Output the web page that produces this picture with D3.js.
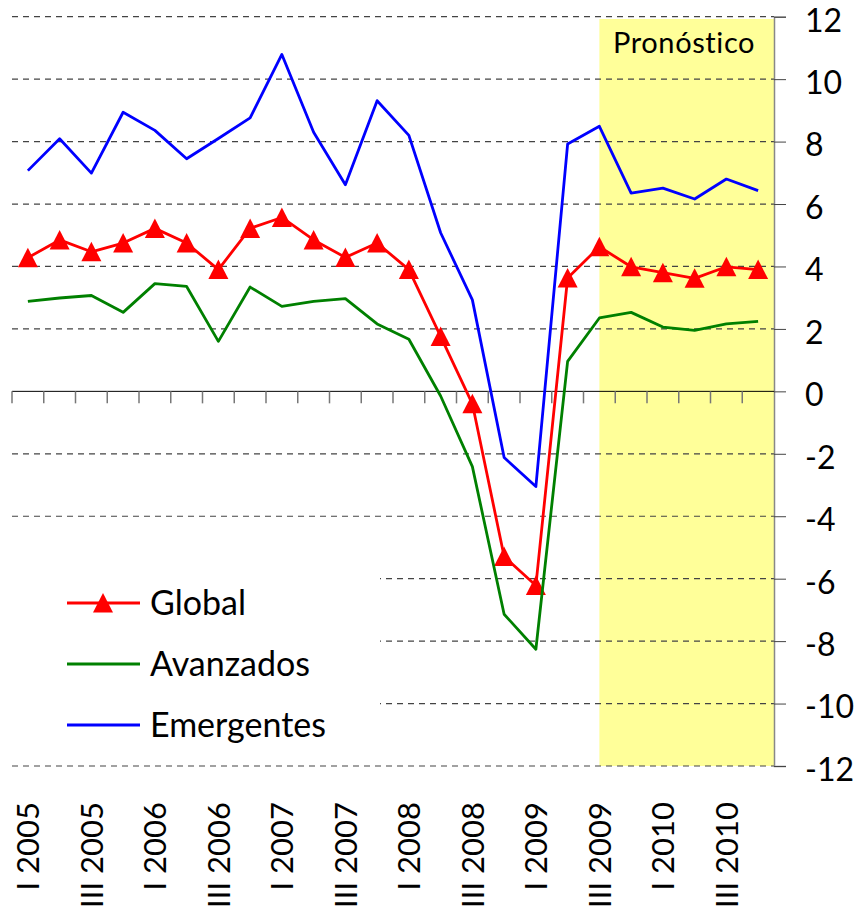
<!DOCTYPE html>
<html>
<head>
<meta charset="utf-8">
<script src="https://cdn.jsdelivr.net/npm/d3@7"></script>
<style>
  body { margin: 0; background: #fff; }
  text { font-family: Lato, "Open Sans", sans-serif; fill: #000; }
</style>
</head>
<body>
<div id="chart"></div>
<script>
// quarters I 2005 .. IV 2010
var quarters = ["I 2005","II 2005","III 2005","IV 2005","I 2006","II 2006","III 2006","IV 2006",
                "I 2007","II 2007","III 2007","IV 2007","I 2008","II 2008","III 2008","IV 2008",
                "I 2009","II 2009","III 2009","IV 2009","I 2010","II 2010","III 2010","IV 2010"];

var global =     [4.28, 4.85, 4.47, 4.75, 5.22, 4.75, 3.90, 5.22, 5.57, 4.85, 4.29, 4.75,
                  3.90, 1.76, -0.40, -5.29, -6.22, 3.63, 4.63, 3.99, 3.80, 3.62, 3.99, 3.90];
var avanzados =  [2.88, 2.99, 3.07, 2.53, 3.45, 3.36, 1.60, 3.34, 2.72, 2.88, 2.97, 2.16,
                  1.67, -0.15, -2.41, -7.14, -8.26, 0.96, 2.35, 2.53, 2.06, 1.95, 2.16, 2.24];
var emergentes = [7.07, 8.09, 6.99, 8.94, 8.36, 7.45, 8.10, 8.76, 10.79, 8.30, 6.62, 9.31,
                  8.20, 5.08, 2.93, -2.12, -3.05, 7.92, 8.49, 6.35, 6.51, 6.16, 6.80, 6.43];

var yTicks = [-12, -10, -8, -6, -4, -2, 0, 2, 4, 6, 8, 10, 12];
var forecastStart = "III 2009";
var forecastLabel = "Pronóstico";

var series = [
  {name: "Global", values: global, color: "#ff0000", marker: true},
  {name: "Avanzados", values: avanzados, color: "#008000", marker: false},
  {name: "Emergentes", values: emergentes, color: "#0000ff", marker: false}
];

var W = 856, H = 921;
var plotLeft = 12, plotRight = 774, plotTop = 16.7, plotBottom = 766;

var svg = d3.select("#chart").append("svg")
    .attr("width", W)
    .attr("height", H);

var x = d3.scaleBand().domain(quarters).range([plotLeft, plotRight]);
var y = d3.scaleLinear().domain([-12, 12]).range([plotBottom, plotTop]);
var cx = function(q) { return x(q) + x.bandwidth() / 2; };

// forecast shading
svg.append("rect")
    .attr("x", cx(forecastStart))
    .attr("y", plotTop + 2.3)
    .attr("width", plotRight - cx(forecastStart))
    .attr("height", plotBottom - plotTop - 2.3)
    .style("fill", "#ffff99");

svg.append("text")
    .attr("x", 613)
    .attr("y", 53)
    .style("font-size", "29px")
    .style("letter-spacing", "0.6px")
    .text(forecastLabel);

// dashed gridlines
svg.append("g")
  .selectAll("line")
  .data(yTicks.filter(function(d) { return d != 0; }))
  .enter().append("line")
    .attr("x1", plotLeft).attr("x2", plotRight)
    .attr("y1", function(d) { return y(d); })
    .attr("y2", function(d) { return y(d); })
    .style("stroke", "#444")
    .style("stroke-width", 1.2)
    .style("stroke-dasharray", "6,5");

// white box behind the legend hides the gridlines there
svg.append("rect")
    .attr("x", plotLeft).attr("y", 552)
    .attr("width", 368).attr("height", 193)
    .style("fill", "#fff");

// right axis
var yAxis = svg.append("g")
    .attr("transform", "translate(" + plotRight + ",0)")
    .call(d3.axisRight(y).tickValues(yTicks).tickSize(12).tickPadding(19)
          .tickFormat(function(d) { return d; }));
yAxis.select(".domain").style("stroke", "#888").style("stroke-width", 1.5);
yAxis.selectAll(".tick line").style("stroke", "#444");
yAxis.selectAll("text")
    .style("font-size", "32px")
    .style("font-family", "Lato, sans-serif")
    .attr("dy", "0.45em");

// x axis at zero
svg.append("line")
    .attr("x1", plotLeft).attr("x2", plotRight)
    .attr("y1", y(0)).attr("y2", y(0))
    .style("stroke", "#000").style("stroke-width", 1);

svg.append("g")
  .selectAll("line")
  .data(quarters)
  .enter().append("line")
    .attr("x1", function(d) { return x(d); })
    .attr("x2", function(d) { return x(d); })
    .attr("y1", y(0)).attr("y2", y(0) + 12)
    .style("stroke", "#777").style("stroke-width", 1.5);

// category labels, every second quarter
svg.append("g")
  .selectAll("text")
  .data(quarters.filter(function(d, i) { return i % 2 == 0; }))
  .enter().append("text")
    .attr("transform", function(d) { return "translate(" + cx(d) + ",802) rotate(-90)"; })
    .attr("text-anchor", "end")
    .attr("dy", "0.36em")
    .style("font-size", "31px")
    .text(function(d) { return d; });

// series lines
var line = d3.line()
    .x(function(d, i) { return cx(quarters[i]); })
    .y(function(d) { return y(d); });

var tri = "M0,-10L10,9.5L-10,9.5Z";

series.forEach(function(s) {
  svg.append("path")
      .datum(s.values)
      .attr("d", line)
      .style("fill", "none")
      .style("stroke", s.color)
      .style("stroke-width", 2.8)
      .style("stroke-linejoin", "round");
  if (s.marker) {
    svg.append("g")
      .selectAll("path")
      .data(s.values)
      .enter().append("path")
        .attr("d", tri)
        .attr("transform", function(d, i) { return "translate(" + cx(quarters[i]) + "," + y(d) + ")"; })
        .style("fill", s.color);
  }
});

// legend
var legend = svg.append("g")
  .selectAll("g")
  .data(series)
  .enter().append("g")
    .attr("transform", function(d, i) { return "translate(67," + (603 + i * 61) + ")"; });

legend.append("line")
    .attr("x1", 0).attr("x2", 73)
    .style("stroke", function(d) { return d.color; })
    .style("stroke-width", 2.8);

legend.filter(function(d) { return d.marker; })
  .append("path")
    .attr("d", tri)
    .attr("transform", "translate(36,0)")
    .style("fill", function(d) { return d.color; });

legend.append("text")
    .attr("x", 83)
    .attr("dy", "0.36em")
    .style("font-size", "34px")
    .text(function(d) { return d.name; });
</script>
</body>
</html>
